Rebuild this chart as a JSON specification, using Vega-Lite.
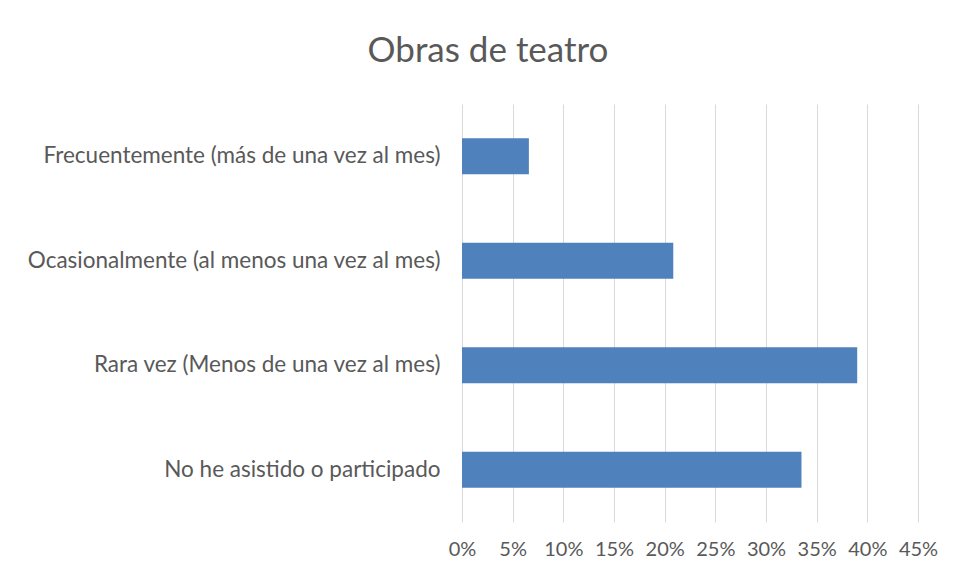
{
  "$schema": "https://vega.github.io/schema/vega-lite/v6.json",
  "autosize": "none",
  "width": 456,
  "height": 418,
  "padding": {"left": 462, "top": 104, "right": 38, "bottom": 59},
  "background": "white",
  "title": {
    "text": "Obras de teatro",
    "font": "Lato",
    "fontSize": 35,
    "fontWeight": "normal",
    "color": "#595959",
    "anchor": "middle",
    "dx": -202,
    "offset": 35
  },
  "data": {
    "values": [
      {"categoria": "Frecuentemente (más de una vez al mes)", "porcentaje": 0.066},
      {"categoria": "Ocasionalmente (al menos una vez al mes)", "porcentaje": 0.2085},
      {"categoria": "Rara vez (Menos de una vez al mes)", "porcentaje": 0.39},
      {"categoria": "No he asistido o participado", "porcentaje": 0.335}
    ]
  },
  "mark": {"type": "bar", "color": "#4f81bd"},
  "encoding": {
    "y": {
      "field": "categoria",
      "type": "nominal",
      "sort": null,
      "title": null,
      "scale": {"paddingInner": 0.655, "paddingOuter": 0.3275},
      "axis": {
        "domain": false,
        "ticks": false,
        "labelFont": "Lato",
        "labelFontSize": 22.5,
        "labelColor": "#595959",
        "labelPadding": 22,
        "labelLimit": 500
      }
    },
    "x": {
      "field": "porcentaje",
      "type": "quantitative",
      "title": null,
      "scale": {"domain": [0, 0.45], "nice": false},
      "axis": {
        "values": [0, 0.05, 0.1, 0.15, 0.2, 0.25, 0.3, 0.35, 0.4, 0.45],
        "format": ".0%",
        "domain": false,
        "ticks": false,
        "grid": true,
        "gridColor": "#d9d9d9",
        "gridWidth": 1,
        "labelFont": "Lato",
        "labelFontSize": 20,
        "labelColor": "#595959",
        "labelPadding": 17,
        "labelOverlap": false,
        "labelBound": false,
        "labelFlush": false
      }
    }
  },
  "config": {"view": {"stroke": null}}
}
